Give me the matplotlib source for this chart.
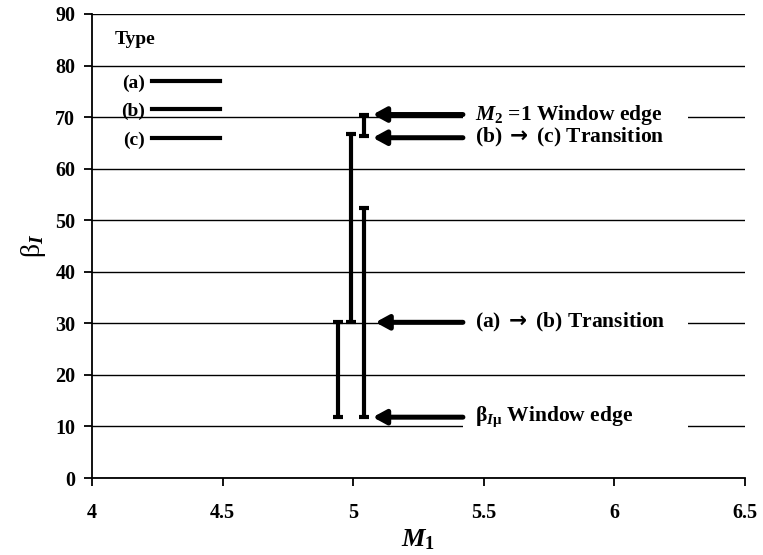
import matplotlib.pyplot as plt
from matplotlib.lines import Line2D
from matplotlib.patches import Rectangle

plt.rcParams.update({
    "font.family": "Liberation Serif", "font.weight": "bold", "font.size": 14,
    "mathtext.fontset": "custom",
    "mathtext.rm": "Liberation Serif:bold",
    "mathtext.it": "Liberation Serif:italic:bold",
    "mathtext.bf": "Liberation Serif:bold",
    "mathtext.sf": "DejaVu Sans:bold",
    "axes.linewidth": 1.3,
})

# beta_I windows at each M1 (type, M1, lower, upper)
bar_type = ["(a)", "(b)", "(a)", "(c)"]
bar_m1 = [4.94, 4.99, 5.04, 5.04]
bar_lo = [11.8, 30.2, 11.8, 66.4]
bar_hi = [30.2, 66.7, 52.3, 70.5]

# labelled levels and the M1 the arrow points at
level_y = [70.5, 66.0, 30.2, 11.8]
level_tip = [5.075, 5.075, 5.085, 5.075]
level_txt = [r"$M_2$ =1 Window edge", r"(b) $\mathsf{\rightarrow}$ (c) Transition",
             r"(a) $\mathsf{\rightarrow}$ (b) Transition", r"β$_{I\mathrm{μ}}$ Window edge"]
ARROW_TAIL, TEXT_X, BOX_RIGHT = 5.42, 5.465, 6.28

fig = plt.figure(figsize=(7.63, 5.55), dpi=100)
ax = fig.add_axes([0.1206, 0.1387, 0.8558, 0.8361])

for t in ["(a)", "(b)", "(c)"]:
    idx = [i for i, b in enumerate(bar_type) if b == t]
    xs = [bar_m1[i] for i in idx]
    lo = [bar_lo[i] for i in idx]
    hi = [bar_hi[i] for i in idx]
    mid = [(a + b) / 2 for a, b in zip(lo, hi)]
    err = [[m - a for m, a in zip(mid, lo)], [b - m for m, b in zip(mid, hi)]]
    ax.errorbar(xs, mid, yerr=err, fmt="none", ecolor="black", elinewidth=3,
                capsize=3.6, capthick=3, zorder=3)

for y, tip, txt in zip(level_y, level_tip, level_txt):
    ax.add_patch(Rectangle((ARROW_TAIL, y - 2.6), BOX_RIGHT - ARROW_TAIL, 5.2,
                           facecolor="white", edgecolor="none", zorder=1.5))
    ax.annotate("", xy=(tip, y), xytext=(ARROW_TAIL, y),
                arrowprops=dict(arrowstyle="-|>,head_length=0.55,head_width=0.3",
                                lw=3.6, color="black", shrinkA=0, shrinkB=0),
                zorder=4)
    ax.text(TEXT_X, y, txt, ha="left", va="center", fontsize=15.5,
            fontweight="bold", zorder=5)

# legend
ax.text(0.035, 0.945, "Type", transform=ax.transAxes, fontsize=14,
        fontweight="bold", va="center", ha="left")
handles = [Line2D([], [], color="black", lw=3) for _ in range(3)]
ax.legend(handles, ["(a)", "(b)", "(c)"], loc="upper left",
          bbox_to_anchor=(0.044, 0.871), borderpad=0, borderaxespad=0,
          frameon=False, markerfirst=False, handlelength=3.5,
          handletextpad=0.4, labelspacing=0.56, fontsize=14)

ax.set_xlim(4, 6.5)
ax.set_ylim(0, 90)
ax.set_xticks([4, 4.5, 5, 5.5, 6, 6.5])
ax.set_xticklabels(["4", "4.5", "5", "5.5", "6", "6.5"])
ax.set_yticks(range(0, 100, 10))
ax.yaxis.grid(True, color="black", lw=1.0)
ax.set_axisbelow(True)
ax.spines["top"].set_visible(False)
ax.spines["right"].set_visible(False)
ax.tick_params(direction="out", length=6, width=1.3, labelsize=14.5, pad=6)
ax.tick_params(axis="x", pad=12)
ax.set_xlabel(r"$M_1$", fontsize=19, labelpad=3)
ax.set_ylabel(r"β$_I$", fontsize=20, labelpad=5)

fig.savefig("out.png", dpi=100)
